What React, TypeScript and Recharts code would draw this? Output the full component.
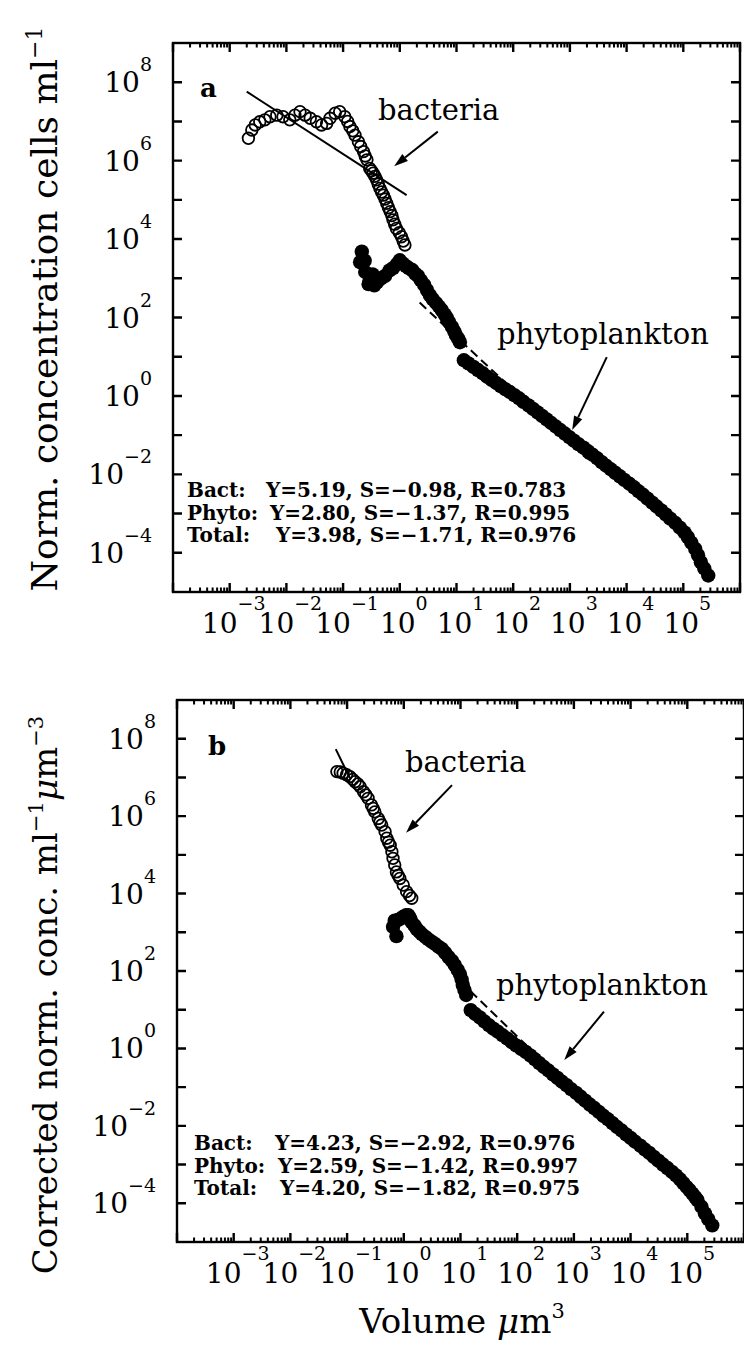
import React from "react";
import {
  ComposedChart,
  Line,
  ReferenceLine,
  Scatter,
  XAxis,
  YAxis,
} from "recharts";

const FONT = "'DejaVu Serif', serif";
const INK = "#000";

// all values are log10

// panel a: bacteria (open circles)
const bactAVolLog = [-2.67, -2.61, -2.55, -2.47, -2.38, -2.29, -2.17, -2.06, -1.94, -1.85, -1.76, -1.67, -1.58, -1.47, -1.38, -1.29, -1.23, -1.14, -1.06, -0.97, -0.92, -0.88, -0.83, -0.79, -0.73, -0.69, -0.64, -0.61, -0.58, -0.53, -0.5, -0.47, -0.44, -0.41, -0.38, -0.35, -0.32, -0.29, -0.26, -0.23, -0.2, -0.17, -0.14, -0.12, -0.09, -0.06, -0.01, 0.03, 0.06, 0.09];
const bactAConcLog = [6.57, 6.78, 6.91, 6.99, 7.04, 7.12, 7.16, 7.12, 7.04, 7.16, 7.25, 7.16, 7.08, 6.99, 6.91, 6.95, 7.08, 7.21, 7.25, 7.12, 7.0, 6.87, 6.76, 6.65, 6.48, 6.36, 6.23, 6.12, 6.02, 5.8, 5.74, 5.68, 5.6, 5.51, 5.4, 5.29, 5.2, 5.12, 5.02, 4.91, 4.8, 4.7, 4.6, 4.49, 4.38, 4.27, 4.16, 4.06, 3.95, 3.85];

// panel a: phytoplankton (filled circles) - small-cell clump, then the long run
const phytoAClumpVolLog = [-0.67, -0.7, -0.62, -0.61, -0.55, -0.53, -0.48, -0.45, -0.4, -0.33, -0.26, -0.18, -0.12, -0.05, 0.0, 0.05, 0.11, 0.16, 0.22, 0.27, 0.32, 0.37, 0.43, 0.48, 0.53, 0.58, 0.64, 0.69, 0.74, 0.79, 0.83, 0.87, 0.92, 0.96, 0.99, 1.03, 1.06];
const phytoAClumpConcLog = [3.68, 3.41, 3.45, 3.16, 2.85, 2.95, 3.1, 2.82, 2.9, 3.0, 3.06, 3.2, 3.26, 3.36, 3.46, 3.38, 3.31, 3.26, 3.21, 3.12, 3.06, 2.95, 2.83, 2.7, 2.57, 2.47, 2.37, 2.28, 2.19, 2.08, 1.99, 1.88, 1.76, 1.65, 1.55, 1.46, 1.37];
const phytoARunVolLog = [1.13, 1.21, 1.3, 1.38, 1.46, 1.54, 1.62, 1.7, 1.78, 1.86, 1.94, 2.02, 2.1, 2.18, 2.27, 2.35, 2.43, 2.51, 2.59, 2.67, 2.75, 2.83, 2.91, 2.99, 3.07, 3.15, 3.24, 3.32, 3.4, 3.48, 3.56, 3.64, 3.72, 3.8, 3.88, 3.96, 4.05, 4.13, 4.21, 4.29, 4.37, 4.45, 4.53, 4.61, 4.69, 4.77, 4.86, 4.94, 5.02, 5.08, 5.14, 5.21, 5.26, 5.31, 5.37, 5.44];
const phytoARunConcLog = [0.91, 0.83, 0.74, 0.66, 0.58, 0.49, 0.41, 0.33, 0.25, 0.17, 0.1, 0.02, -0.06, -0.15, -0.24, -0.33, -0.42, -0.51, -0.6, -0.69, -0.78, -0.87, -0.96, -1.05, -1.14, -1.23, -1.32, -1.41, -1.5, -1.59, -1.69, -1.78, -1.87, -1.96, -2.05, -2.14, -2.24, -2.33, -2.43, -2.52, -2.62, -2.72, -2.82, -2.92, -3.02, -3.13, -3.24, -3.36, -3.48, -3.6, -3.74, -3.9, -4.06, -4.24, -4.4, -4.58];

// panel b: bacteria
const bactBVolLog = [-1.18, -1.12, -1.07, -1.01, -0.95, -0.9, -0.86, -0.81, -0.77, -0.71, -0.67, -0.63, -0.57, -0.54, -0.51, -0.45, -0.42, -0.39, -0.33, -0.3, -0.27, -0.24, -0.21, -0.19, -0.16, -0.13, -0.1, -0.07, -0.01, 0.05, 0.1, 0.14];
const bactBConcLog = [7.15, 7.14, 7.11, 7.07, 7.02, 6.95, 6.89, 6.83, 6.76, 6.63, 6.55, 6.46, 6.29, 6.2, 6.11, 5.94, 5.85, 5.77, 5.6, 5.43, 5.33, 5.25, 5.08, 4.91, 4.74, 4.56, 4.47, 4.39, 4.22, 4.05, 3.95, 3.88];

// panel b: phytoplankton
const phytoBClumpVolLog = [-0.19, -0.13, -0.16, -0.1, -0.05, -0.01, 0.04, 0.08, 0.11, 0.14, 0.19, 0.23, 0.28, 0.32, 0.38, 0.43, 0.49, 0.55, 0.61, 0.67, 0.73, 0.79, 0.85, 0.9, 0.95, 0.99, 1.02, 1.04, 1.07, 1.1];
const phytoBClumpConcLog = [3.14, 2.9, 3.3, 3.32, 3.36, 3.4, 3.44, 3.44, 3.36, 3.26, 3.17, 3.08, 3.01, 2.95, 2.88, 2.82, 2.76, 2.7, 2.63, 2.57, 2.47, 2.36, 2.26, 2.15, 2.03, 1.92, 1.78, 1.64, 1.51, 1.38];
const phytoBRunVolLog = [1.18, 1.26, 1.34, 1.42, 1.5, 1.58, 1.66, 1.74, 1.82, 1.9, 1.98, 2.07, 2.15, 2.23, 2.31, 2.39, 2.47, 2.55, 2.63, 2.71, 2.79, 2.87, 2.95, 3.04, 3.12, 3.2, 3.28, 3.36, 3.44, 3.52, 3.6, 3.68, 3.76, 3.84, 3.92, 4.0, 4.08, 4.17, 4.25, 4.33, 4.41, 4.49, 4.57, 4.65, 4.73, 4.8, 4.87, 4.93, 4.99, 5.04, 5.09, 5.14, 5.18, 5.25, 5.31, 5.37, 5.44];
const phytoBRunConcLog = [0.99, 0.89, 0.8, 0.7, 0.6, 0.51, 0.43, 0.34, 0.26, 0.17, 0.08, -0.01, -0.09, -0.18, -0.28, -0.38, -0.48, -0.57, -0.67, -0.76, -0.86, -0.95, -1.05, -1.15, -1.25, -1.35, -1.45, -1.54, -1.64, -1.74, -1.83, -1.93, -2.03, -2.12, -2.22, -2.31, -2.41, -2.51, -2.61, -2.7, -2.8, -2.9, -3.0, -3.09, -3.19, -3.28, -3.38, -3.48, -3.58, -3.66, -3.75, -3.84, -3.92, -4.09, -4.26, -4.41, -4.57];

// regression lines, visible stretches (end points)
const bactFitAVolLog = [-2.7, 0.12];
const bactFitAConcLog = [7.76, 5.12];
const phytoFitAVolLog = [0.35, 3.3];
const phytoFitAConcLog = [2.38, -1.6];
const bactFitBVolLog = [-1.2, -0.95];
const bactFitBConcLog = [7.73, 6.98];
const phytoFitBVolLog = [1.0, 3.5];
const phytoFitBConcLog = [1.73, -1.82];

// annotation arrows [fromVol, fromConc, toVol, toConc]
const arrowBactA = [0.67, 6.74, -0.1, 5.86];
const arrowPhytoA = [3.65, 0.99, 3.04, -0.87];
const arrowBactB = [0.85, 6.8, 0.04, 5.57];
const arrowPhytoB = [3.53, 0.95, 2.83, -0.3];

const statsA = [
  ["Bact:", "Y=5.19, S=\u22120.98, R=0.783"],
  ["Phyto:", "Y=2.80, S=\u22121.37, R=0.995"],
  ["Total:", "Y=3.98, S=\u22121.71, R=0.976"],
];
const statsB = [
  ["Bact:", "Y=4.23, S=\u22122.92, R=0.976"],
  ["Phyto:", "Y=2.59, S=\u22121.42, R=0.997"],
  ["Total:", "Y=4.20, S=\u22121.82, R=0.975"],
];

// axes
const X_DOMAIN = [1e-4, 1e6];
const Y_DOMAIN = [1e-5, 1e9];
const xMajorExps = [-4, -3, -2, -1, 0, 1, 2, 3, 4, 5, 6];
const xLabelExps = [-3, -2, -1, 0, 1, 2, 3, 4, 5];
const minorMult = [2, 3, 4, 5, 6, 7, 8, 9];
const yTickExps = [-4, -3, -2, -1, 0, 1, 2, 3, 4, 5, 6, 7, 8];
const yLabelExps = [-4, -2, 0, 2, 4, 6, 8];

const xLabelTicks = xLabelExps.map((e) => 10 ** e);
const yLabelTicks = yLabelExps.map((e) => 10 ** e);

// plot rectangles on the page (match the chart margins below)
const PLOT_A = { left: 173, right: 740, top: 43, bottom: 592 };
const PLOT_B = { left: 177, right: 744, top: 700, bottom: 1242 };

const pts = (vx: number[], vy: number[]) => vx.map((v, i) => ({ x: 10 ** v, y: 10 ** vy[i] }));
const expText = (e: number) => (e < 0 ? `\u2212${-e}` : `${e}`);

function XLabel(props: any) {
  const x = Number(props.x);
  const y = Number(props.y);
  const exp = Math.round(Math.log10(props.payload.value));
  return (
    <text x={x + 4} y={y + 41} textAnchor="middle" fontSize={28} fontFamily={FONT} fill={INK}>
      10
      <tspan dy={-23} fontSize={19}>
        {expText(exp)}
      </tspan>
    </text>
  );
}

function YLabel(props: any) {
  const x = Number(props.x);
  const y = Number(props.y);
  const exp = Math.round(Math.log10(props.payload.value));
  return (
    <text x={x - 21} y={y + 10} textAnchor="end" fontSize={28} fontFamily={FONT} fill={INK}>
      10
      <tspan dy={-21} fontSize={19}>
        {expText(exp)}
      </tspan>
    </text>
  );
}

// inward ticks on all four sides of a plot rectangle (log axes)
function FrameTicks({ plot }: { plot: typeof PLOT_A }) {
  const lx0 = Math.log10(X_DOMAIN[0]);
  const lx1 = Math.log10(X_DOMAIN[1]);
  const ly0 = Math.log10(Y_DOMAIN[0]);
  const ly1 = Math.log10(Y_DOMAIN[1]);
  const px = (v: number) => plot.left + ((Math.log10(v) - lx0) / (lx1 - lx0)) * (plot.right - plot.left);
  const py = (v: number) => plot.bottom - ((Math.log10(v) - ly0) / (ly1 - ly0)) * (plot.bottom - plot.top);
  let major = "";
  let minor = "";
  xMajorExps.forEach((e) => {
    const x = px(10 ** e);
    major += `M${x},${plot.bottom}V${plot.bottom - 9}M${x},${plot.top}V${plot.top + 9}`;
    if (e < 6) {
      minorMult.forEach((m) => {
        const xm = px(m * 10 ** e);
        minor += `M${xm},${plot.bottom}V${plot.bottom - 4.5}M${xm},${plot.top}V${plot.top + 4.5}`;
      });
    }
  });
  yTickExps.forEach((e) => {
    const y = py(10 ** e);
    major += `M${plot.left},${y}H${plot.left + 9}M${plot.right},${y}H${plot.right - 9}`;
  });
  return (
    <g fill="none" stroke={INK}>
      <path d={major} strokeWidth={2.4} />
      <path d={minor} strokeWidth={2} />
      <rect
        x={plot.left}
        y={plot.top}
        width={plot.right - plot.left}
        height={plot.bottom - plot.top}
        strokeWidth={2.4}
      />
    </g>
  );
}

function ArrowShape(props: any) {
  const { x1, y1, x2, y2 } = props;
  if ([x1, y1, x2, y2].some((v) => typeof v !== "number" || isNaN(v))) return null;
  const ang = Math.atan2(y2 - y1, x2 - x1);
  const L = 14;
  const W = 4.5;
  const bx = x2 - L * Math.cos(ang);
  const by = y2 - L * Math.sin(ang);
  const p1 = `${bx + W * Math.sin(ang)},${by - W * Math.cos(ang)}`;
  const p2 = `${bx - W * Math.sin(ang)},${by + W * Math.cos(ang)}`;
  return (
    <g>
      <line x1={x1} y1={y1} x2={bx} y2={by} stroke={INK} strokeWidth={2} />
      <polygon points={`${x2},${y2} ${p1} ${p2}`} fill={INK} />
    </g>
  );
}

const OpenDot = (p: any) => <circle cx={p.cx} cy={p.cy} r={5.8} fill="none" stroke={INK} strokeWidth={1.8} />;
const FilledDot = (p: any) => <circle cx={p.cx} cy={p.cy} r={7.2} fill={INK} />;

type Pt = { x: number; y: number };
type PanelProps = {
  width: number;
  height: number;
  margin: { top: number; right: number; bottom: number; left: number };
  yAxisWidth: number;
  xAxisHeight: number;
  bact: Pt[];
  phyto: Pt[];
  bactFit: Pt[];
  phytoFit: Pt[];
  arrows: number[][];
};

function Panel({ width, height, margin, yAxisWidth, xAxisHeight, bact, phyto, bactFit, phytoFit, arrows }: PanelProps) {
  return (
    <ComposedChart width={width} height={height} margin={margin}>
      <XAxis
        dataKey="x"
        type="number"
        scale="log"
        domain={X_DOMAIN}
        allowDataOverflow
        ticks={xLabelTicks}
        interval={0}
        tickSize={0}
        tickMargin={0}
        axisLine={false}
        tickLine={false}
        height={xAxisHeight}
        tick={XLabel}
      />
      <YAxis
        dataKey="y"
        type="number"
        scale="log"
        domain={Y_DOMAIN}
        allowDataOverflow
        ticks={yLabelTicks}
        interval={0}
        tickSize={0}
        tickMargin={0}
        axisLine={false}
        tickLine={false}
        width={yAxisWidth}
        tick={YLabel}
      />
      <Line data={bactFit} dataKey="y" type="linear" dot={false} stroke={INK} strokeWidth={2} isAnimationActive={false} />
      <Line
        data={phytoFit}
        dataKey="y"
        type="linear"
        dot={false}
        stroke={INK}
        strokeWidth={2}
        strokeDasharray="9 5"
        isAnimationActive={false}
      />
      <Scatter data={bact} shape={OpenDot} isAnimationActive={false} />
      <Scatter data={phyto} shape={FilledDot} isAnimationActive={false} />
      {arrows.map((a, i) => (
        <ReferenceLine
          key={`a${i}`}
          segment={[
            { x: 10 ** a[0], y: 10 ** a[1] },
            { x: 10 ** a[2], y: 10 ** a[3] },
          ]}
          ifOverflow="visible"
          shape={ArrowShape}
        />
      ))}
    </ComposedChart>
  );
}

function Stats({ rows, x, valueX, y0 }: { rows: string[][]; x: number; valueX: number[]; y0: number }) {
  return (
    <g fontFamily={FONT} fontWeight="bold" fontSize={20} fill={INK}>
      {rows.map((r, i) => (
        <g key={i}>
          <text x={x} y={y0 + i * 22.5}>
            {r[0]}
          </text>
          <text x={valueX[i]} y={y0 + i * 22.5}>
            {r[1]}
          </text>
        </g>
      ))}
    </g>
  );
}

export default function App() {
  return (
    <div
      style={{
        position: "absolute",
        left: 0,
        top: 0,
        width: 744,
        height: 1349,
        overflow: "hidden",
        background: "#fff",
      }}
    >
      <div style={{ position: "absolute", left: 0, top: 0 }}>
        <Panel
          width={744}
          height={650}
          margin={{ top: PLOT_A.top, right: 744 - PLOT_A.right, bottom: 0, left: 0 }}
          yAxisWidth={PLOT_A.left}
          xAxisHeight={650 - PLOT_A.bottom}
          bact={pts(bactAVolLog, bactAConcLog)}
          phyto={[...pts(phytoAClumpVolLog, phytoAClumpConcLog), ...pts(phytoARunVolLog, phytoARunConcLog)]}
          bactFit={pts(bactFitAVolLog, bactFitAConcLog)}
          phytoFit={pts(phytoFitAVolLog, phytoFitAConcLog)}
          arrows={[arrowBactA, arrowPhytoA]}
        />
      </div>
      <div style={{ position: "absolute", left: 0, top: 650 }}>
        <Panel
          width={744}
          height={699}
          margin={{ top: PLOT_B.top - 650, right: 744 - PLOT_B.right, bottom: 0, left: 0 }}
          yAxisWidth={PLOT_B.left}
          xAxisHeight={1349 - PLOT_B.bottom}
          bact={pts(bactBVolLog, bactBConcLog)}
          phyto={[...pts(phytoBClumpVolLog, phytoBClumpConcLog), ...pts(phytoBRunVolLog, phytoBRunConcLog)]}
          bactFit={pts(bactFitBVolLog, bactFitBConcLog)}
          phytoFit={pts(phytoFitBVolLog, phytoFitBConcLog)}
          arrows={[arrowBactB, arrowPhytoB]}
        />
      </div>
      <svg
        width={744}
        height={1349}
        style={{ position: "absolute", left: 0, top: 0, pointerEvents: "none" }}
      >
        <FrameTicks plot={PLOT_A} />
        <FrameTicks plot={PLOT_B} />
        <g fontFamily={FONT} fill={INK}>
          <text x={200} y={97} fontSize={26} fontWeight="bold">a</text>
          <text x={378} y={120} fontSize={29}>bacteria</text>
          <text x={497} y={344} fontSize={29}>phytoplankton</text>
          <text x={208} y={755} fontSize={26} fontWeight="bold">b</text>
          <text x={405} y={772} fontSize={29}>bacteria</text>
          <text x={496} y={995} fontSize={29}>phytoplankton</text>

          <text x={57} y={309} fontSize={36} textAnchor="middle" transform="rotate(-90 57 309)">
            Norm. concentration cells ml
            <tspan dy={-15} fontSize={22}>{"\u22121"}</tspan>
          </text>
          <text x={57} y={995} fontSize={34} textAnchor="middle" transform="rotate(-90 57 995)">
            Corrected norm. conc. ml
            <tspan dy={-14} fontSize={21}>{"\u22121"}</tspan>
            <tspan dy={14} fontStyle="italic">{"\u03bc"}</tspan>
            <tspan>m</tspan>
            <tspan dy={-14} fontSize={21}>{"\u22123"}</tspan>
          </text>
          <text x={462} y={1333} fontSize={34} textAnchor="middle">
            Volume <tspan fontStyle="italic">{"\u03bc"}</tspan>m
            <tspan dy={-15} fontSize={21}>3</tspan>
          </text>
        </g>
        <Stats rows={statsA} x={187} valueX={[266, 270, 276]} y0={497} />
        <Stats rows={statsB} x={194} valueX={[275, 278, 280]} y0={1150} />
      </svg>
    </div>
  );
}
